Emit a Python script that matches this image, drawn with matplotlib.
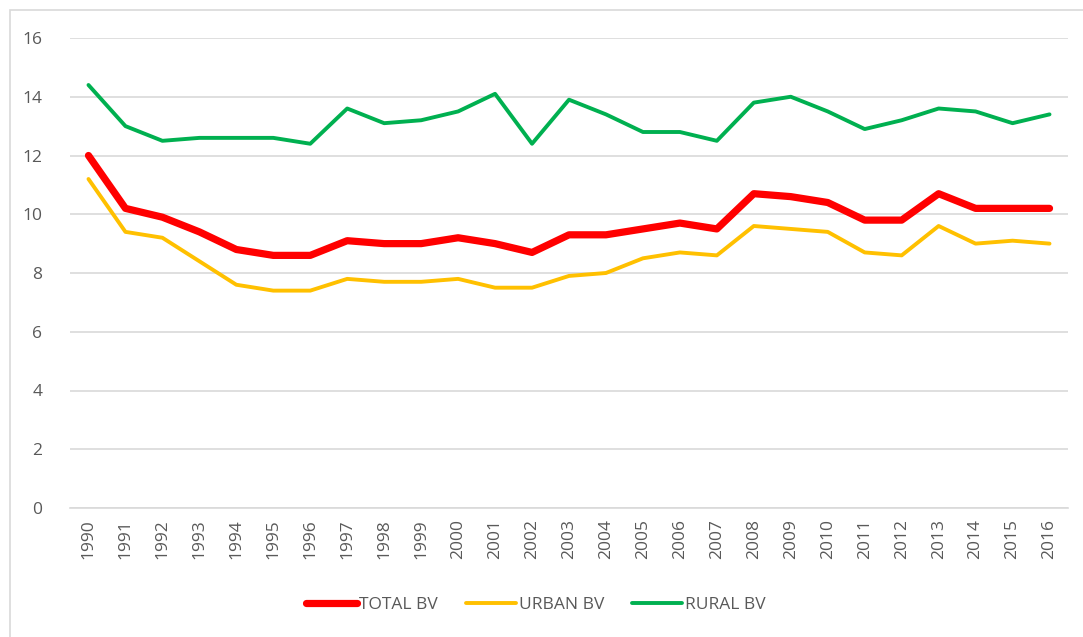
import matplotlib
matplotlib.use("Agg")
from matplotlib import pyplot as plt
from matplotlib.patches import Rectangle

plt.rcParams['font.family'] = ['Open Sans', 'DejaVu Sans']

years = [str(y) for y in range(1990, 2017)]

# TOTAL BV
total_bv = [12.0, 10.2, 9.9, 9.4, 8.8, 8.6, 8.6, 9.1, 9.0, 9.0, 9.2, 9.0, 8.7, 9.3,
            9.3, 9.5, 9.7, 9.5, 10.7, 10.6, 10.4, 9.8, 9.8, 10.7, 10.2, 10.2, 10.2]
# URBAN BV
urban_bv = [11.2, 9.4, 9.2, 8.4, 7.6, 7.4, 7.4, 7.8, 7.7, 7.7, 7.8, 7.5, 7.5, 7.9,
            8.0, 8.5, 8.7, 8.6, 9.6, 9.5, 9.4, 8.7, 8.6, 9.6, 9.0, 9.1, 9.0]
# RURAL BV
rural_bv = [14.4, 13.0, 12.5, 12.6, 12.6, 12.6, 12.4, 13.6, 13.1, 13.2, 13.5, 14.1, 12.4, 13.9,
            13.4, 12.8, 12.8, 12.5, 13.8, 14.0, 13.5, 12.9, 13.2, 13.6, 13.5, 13.1, 13.4]

W, H = 1083, 637
fig = plt.figure(figsize=(W / 100, H / 100), dpi=100)

# chart frame
fig.patches.append(Rectangle((10 / W, -0.1), 1.2, 1 - 10 / H + 0.1, transform=fig.transFigure,
                             fill=False, edgecolor='#d9d9d9', linewidth=1.2))

ax = fig.add_axes([70 / W, 129 / H, 998 / W, 470 / H])
x = range(len(years))
ax.plot(x, total_bv, color='#ff0000', linewidth=5.2, solid_capstyle='round', label='TOTAL BV')
ax.plot(x, urban_bv, color='#ffc000', linewidth=2.8, solid_capstyle='round', label='URBAN BV')
ax.plot(x, rural_bv, color='#00b050', linewidth=2.8, solid_capstyle='round', label='RURAL BV')

ax.set_xlim(-0.5, len(years) - 0.5)
ax.set_ylim(0, 16)
ax.set_yticks(range(0, 17, 2))
ax.set_xticks(list(x))
ax.set_xticklabels(years, rotation=90)
ax.grid(axis='y', color='#d9d9d9', linewidth=1.2)
ax.set_axisbelow(True)
for s in ['top', 'right', 'left']:
    ax.spines[s].set_visible(False)
ax.spines['bottom'].set_color('#d9d9d9')
ax.spines['bottom'].set_linewidth(1.2)
ax.tick_params(axis='both', length=0, labelsize=12.5, labelcolor='#595959')
ax.tick_params(axis='y', pad=20)
ax.tick_params(axis='x', pad=8)

leg = fig.legend(loc='center', bbox_to_anchor=(536 / W, 1 - 605 / H), ncol=3, frameon=False,
                 fontsize=12.5, handlelength=2.9, handletextpad=0.15, columnspacing=1.6)
for t in leg.get_texts():
    t.set_color('#595959')

plt.savefig("out.png", dpi=100)
plt.close()
